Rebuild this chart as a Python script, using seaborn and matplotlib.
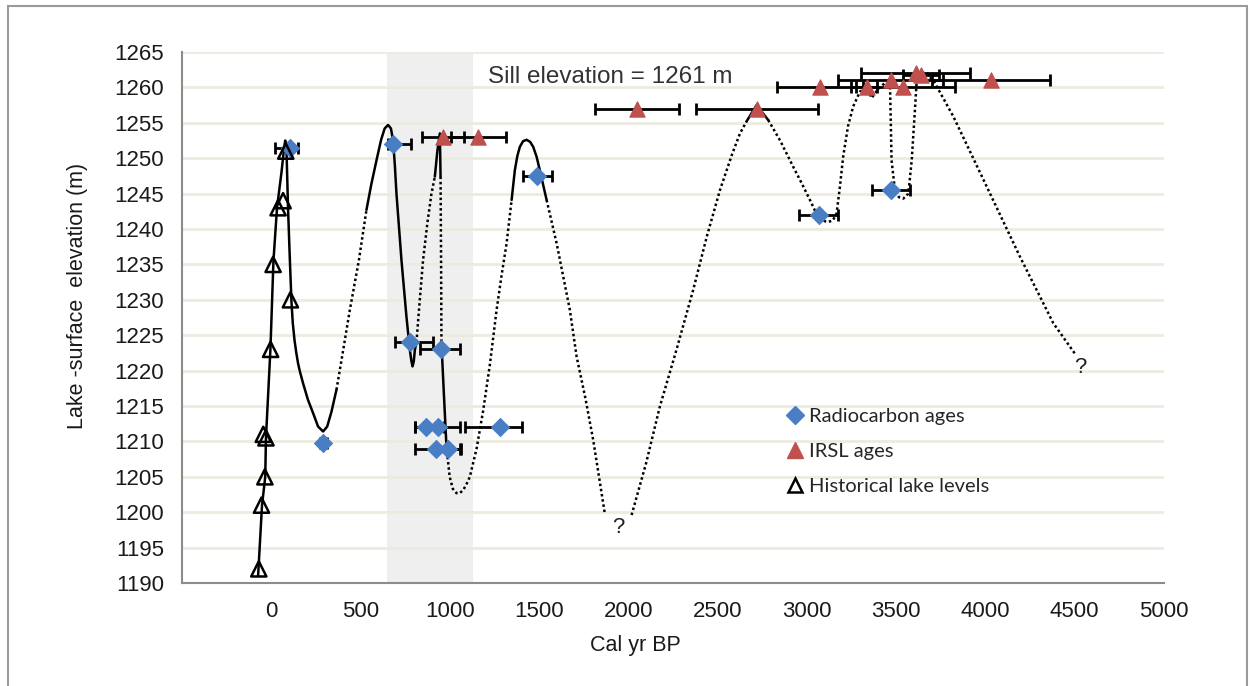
import matplotlib
matplotlib.use("Agg")
import matplotlib.pyplot as plt
from matplotlib.lines import Line2D
from matplotlib.patches import Rectangle
import seaborn as sns

# radiocarbon ages (blue diamonds), with left / right error
rc_x = [107, 682, 290, 776, 953, 869, 934, 1280, 925, 990, 1486, 3070, 3470]
rc_y = [1251.5, 1252, 1209.8, 1224, 1223, 1212, 1212, 1212, 1209, 1209, 1247.5, 1242, 1245.5]
rc_lo = [87, 30, 20, 84, 121, 65, 130, 196, 121, 60, 75, 115, 105]
rc_hi = [43, 103, 20, 130, 103, 100, 122, 122, 131, 70, 84, 105, 107]

# IRSL ages (red triangles)
ir_x = [963, 1160, 2050, 2720, 3073, 3334, 3470, 3538, 3610, 3640, 4030]
ir_y = [1253, 1253, 1257, 1257, 1260, 1260, 1261, 1260, 1262, 1261.8, 1261]
ir_err = [117, 152, 235, 340, 240, 60, 295, 290, 305, 100, 330]

# historical lake levels (open triangles)
hist_x = [-70, -55, -36, -45, -30, -4, 10, 38, 66, 81, 107]
hist_y = [1192, 1201, 1205, 1211, 1210.5, 1223, 1235, 1243, 1244, 1251, 1230]

# lake level curve, solid parts
solid_1_x = [-74, -52, -34, -30, -5, 12, 32, 57, 72, 78, 85, 94, 104, 113, 120, 130, 140, 150, 160, 178,
             205, 234, 262, 290, 313, 337, 365]
solid_1_y = [1191, 1201, 1205, 1210.5, 1223, 1235.5, 1243, 1248, 1251.5, 1252.5, 1251.2, 1242.7, 1235.6,
             1229.7, 1226.8, 1224.3, 1222.5, 1221, 1219.9, 1218.2, 1215.9, 1214, 1212.1, 1211.4, 1212.1,
             1214.2, 1217.3]
solid_2_x = [533, 560, 590, 615, 635, 654, 670, 682, 692, 701, 729, 757, 776, 785, 791, 798, 804, 813]
solid_2_y = [1242.7, 1246.3, 1249.8, 1252.6, 1254.2, 1254.7, 1254.2, 1252.5, 1249, 1245, 1235.6, 1227.6,
             1222.9, 1221.3, 1220.6, 1221.3, 1222.9, 1224]
solid_3_x = [916, 930, 944, 948]
solid_3_y = [1247.4, 1251, 1253.5, 1247.4]
solid_4_x = [953, 967, 981]
solid_4_y = [1223.9, 1216.5, 1209.3]
solid_5_x = [1346, 1364, 1378, 1392, 1410, 1430, 1450, 1467, 1486, 1504, 1542]
solid_5_y = [1244.1, 1248.3, 1250.3, 1251.6, 1252.4, 1252.6, 1252.3, 1251.6, 1250.2, 1248.3, 1244.1]
solid_6_x = [2662, 2718, 2783]
solid_6_y = [1255.2, 1257.5, 1255.4]

# lake level curve, dotted (inferred) parts
dot_1_x = [365, 400, 440, 490, 533]
dot_1_y = [1217.3, 1222.5, 1228.6, 1235.5, 1242.7]
dot_2_x = [813, 830, 850, 875, 897, 916]
dot_2_y = [1224, 1229.5, 1235.6, 1241, 1245, 1247.4]
dot_3_x = [948, 951, 953]
dot_3_y = [1247.4, 1235, 1223.9]
dot_4_x = [981, 999, 1017, 1037, 1055, 1074, 1092, 1112, 1150, 1187, 1225, 1262, 1290, 1318, 1346]
dot_4_y = [1209.3, 1205, 1203.3, 1202.7, 1202.7, 1203.1, 1203.9, 1205, 1209, 1214.4, 1221, 1228.6,
           1233.5, 1238, 1244.1]
dot_5_x = [1542, 1598, 1672, 1710, 1760, 1803, 1868]
dot_5_y = [1244.1, 1238, 1228.6, 1222, 1216, 1210.2, 1199.8]
dot_6_x = [2018, 2100, 2176, 2270, 2363, 2440, 2513, 2580, 2625, 2662]
dot_6_y = [1199.6, 1207, 1214.9, 1223, 1231.4, 1239, 1245.5, 1250.5, 1253.5, 1255.2]
dot_7_x = [2783, 2850, 2923, 2970, 3017, 3045, 3073, 3100, 3119, 3145, 3166, 3185, 3203, 3230, 3259, 3297,
           3334, 3362, 3400, 3440, 3465, 3474, 3493, 3515, 3540, 3568, 3587, 3605, 3615, 3640, 3671, 3717,
           3820, 4007, 4193, 4380, 4501]
dot_7_y = [1255.4, 1252.5, 1248.8, 1246.5, 1244.1, 1242.6, 1241.7, 1241.1, 1241, 1241.2, 1242.2, 1246, 1250.2,
           1254.5, 1257.3, 1259.4, 1260, 1258.5, 1259.8, 1260.7, 1261, 1249.7, 1245.5, 1244.5, 1244.3, 1245,
           1249.7, 1256.8, 1261, 1262.2, 1262, 1260.6, 1255.9, 1246, 1236.1, 1226.7, 1222.4]

solid_parts = [(solid_1_x, solid_1_y), (solid_2_x, solid_2_y), (solid_3_x, solid_3_y),
               (solid_4_x, solid_4_y), (solid_5_x, solid_5_y), (solid_6_x, solid_6_y)]
dotted_parts = [(dot_1_x, dot_1_y), (dot_2_x, dot_2_y), (dot_3_x, dot_3_y), (dot_4_x, dot_4_y),
                (dot_5_x, dot_5_y), (dot_6_x, dot_6_y), (dot_7_x, dot_7_y)]

blue = "#4A7EC4"
red = "#C0504D"

sns.set_theme(style="white")
plt.rcParams["font.family"] = ["Liberation Sans", "DejaVu Sans"]

fig = plt.figure(figsize=(12.52, 6.86), dpi=100)
ax = fig.add_axes([0.1454, 0.1501, 0.7843, 0.7741])

# shaded period
ax.axvspan(650, 1130, color="#EFEFEF", zorder=0, lw=0)

for xs, ys in solid_parts:
    sns.lineplot(x=xs, y=ys, sort=False, estimator=None, color="black", lw=1.8, ax=ax, zorder=2)
for xs, ys in dotted_parts:
    sns.lineplot(x=xs, y=ys, sort=False, estimator=None, color="black", lw=1.8,
                 linestyle=(0, (1, 1.1)), ax=ax, zorder=2)

ax.errorbar(rc_x, rc_y, xerr=[rc_lo, rc_hi], fmt="none", ecolor="black",
            elinewidth=2, capsize=4, capthick=2, zorder=3)
ax.errorbar(ir_x, ir_y, xerr=ir_err, fmt="none", ecolor="black",
            elinewidth=2, capsize=4, capthick=2, zorder=3)

sns.scatterplot(x=rc_x, y=rc_y, marker="D", s=85, color=blue, edgecolor=blue, ax=ax, zorder=4)
sns.scatterplot(x=ir_x, y=ir_y, marker="^", s=120, color=red, edgecolor=red, ax=ax, zorder=4)
ax.scatter(hist_x, hist_y, marker="^", s=120, facecolors="none", edgecolors="black",
           linewidths=1.8, zorder=4)

ax.set_xlim(-500, 5000)
ax.set_ylim(1190, 1265)
ax.set_xticks(range(0, 5001, 500))
ax.set_yticks(range(1190, 1266, 5))
ax.yaxis.grid(True, color="#EDEBE0", lw=2)
ax.set_axisbelow(True)

for side in ["top", "right"]:
    ax.spines[side].set_visible(False)
for side in ["left", "bottom"]:
    ax.spines[side].set_color("#8C8C8C")
    ax.spines[side].set_linewidth(1.5)

ax.tick_params(axis="x", direction="in", length=5, width=1.5, color="#8C8C8C",
               labelsize=16, pad=13, labelcolor="#1A1A1A")
ax.tick_params(axis="y", length=0, labelsize=16, pad=13, labelcolor="#1A1A1A")

ax.set_xlabel("Cal yr BP", fontsize=15.5, color="#1A1A1A")
ax.xaxis.set_label_coords(0.462, -0.098)
ax.set_ylabel("Lake -surface  elevation (m)", fontsize=15.5, color="#1A1A1A")
ax.yaxis.set_label_coords(-0.0957, 0.54)

ax.text(1213, 1261.5, "Sill elevation = 1261 m", fontsize=17.5, color="#333333",
        ha="left", va="center")
ax.text(1942, 1197.9, "?", fontsize=16, color="#222222", ha="center", va="center")
ax.text(4530, 1220.4, "?", fontsize=16, color="#222222", ha="center", va="center")

handles = [
    Line2D([], [], marker="D", ls="none", color=blue, markersize=9, label="Radiocarbon ages"),
    Line2D([], [], marker="^", ls="none", color=red, markersize=11, label="IRSL ages"),
    Line2D([], [], marker="^", ls="none", markerfacecolor="white", markeredgecolor="black",
           markeredgewidth=1.8, markersize=10, label="Historical lake levels"),
]
ax.legend(handles=handles, loc="upper left", bbox_to_anchor=(0.608, 0.345), frameon=False,
          prop={"family": "Lato", "size": 14.5}, handlelength=0.8, handletextpad=0.3,
          labelspacing=0.9, borderaxespad=0)

# outer frame of the figure
fig.patches.append(Rectangle((8 / 1252, -0.05), (1247 - 8) / 1252, 1.05 - 6 / 686,
                             transform=fig.transFigure, fill=False, edgecolor="#9A9A9A", lw=1.5))

fig.savefig("out.png", dpi=100)
